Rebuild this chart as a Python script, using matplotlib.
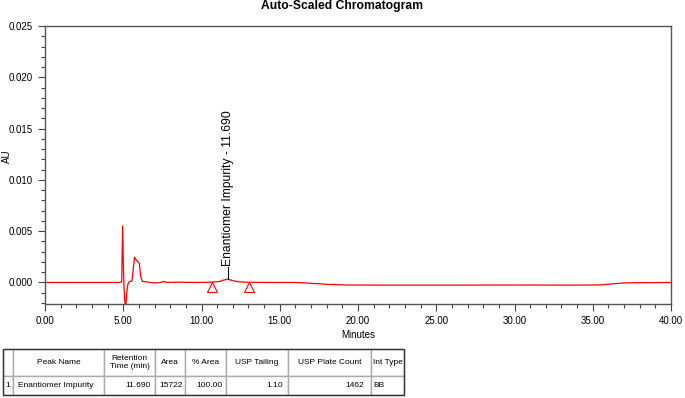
import matplotlib
matplotlib.use("Agg")
import matplotlib.pyplot as plt
from matplotlib.ticker import MultipleLocator, FormatStrFormatter
from matplotlib.table import Table
from matplotlib.patches import Rectangle

plt.rcParams['font.family'] = ['Liberation Sans', 'DejaVu Sans']

# chromatogram trace (minutes, AU)
time_min = [0.00, 4.80, 4.90, 4.96, 5.02, 5.08, 5.15, 5.22, 5.30, 5.40, 5.55, 5.65,
            5.72, 5.78, 5.90, 6.02, 6.12, 6.22, 6.50, 7.00, 7.40, 7.55, 7.80, 8.50,
            9.50, 10.50, 11.10, 11.45, 11.69, 11.95, 12.40, 13.00, 14.00, 16.00,
            17.00, 18.00, 19.30, 22.00, 26.00, 30.00, 34.00, 35.50, 36.50, 37.20, 40.00]
au = [0.00000, 0.00000, 0.00010, 0.00550, 0.00080, -0.00150, -0.00260, -0.00100,
      -0.00015, 0.00010, 0.00012, 0.00150, 0.00245, 0.00230, 0.00205, 0.00190,
      0.00060, 0.00010, 0.00005, -0.00005, 0.00000, 0.00010, 0.00000, 0.00003,
      0.00000, 0.00002, 0.00008, 0.00025, 0.00032, 0.00020, 0.00005, 0.00002,
      0.00000, 0.00000, -0.00008, -0.00018, -0.00025, -0.00026, -0.00026,
      -0.00025, -0.00026, -0.00024, -0.00010, -0.00003, 0.00000]

# integration start/end markers
mark_t = [10.70, 13.05]
mark_au = [-0.00048, -0.00048]

peak_name = "Enantiomer Impurity"
peak_rt = 11.690
peak_top = 0.00032
label_au = 0.00150

# results table
col_labels = ["", "Peak Name", "Retention\nTime (min)", "Area", "% Area",
              "USP Tailing", "USP Plate Count", "Int Type"]
row_values = ["1", peak_name, "11.690", "15722", "100.00", "1.10", "1462", "BB"]
col_width_px = [10, 91, 51, 30, 41, 62, 83, 33]
row_align = ["center", "left", "right", "right", "right", "right", "right", "left"]

fig = plt.figure(figsize=(6.85, 3.98), dpi=100)
ax = fig.add_axes([45 / 685, 1 - 304 / 398, 626 / 685, 278 / 398])

ax.plot(time_min, au, color="#ff0000", lw=0.9)
ax.plot(mark_t, mark_au, ls="none", marker="^", ms=6.5, mfc="none",
        mec="#ff0000", mew=0.8)
ax.plot([peak_rt, peak_rt], [peak_top, label_au], color="black", lw=0.8)
ax.text(peak_rt, label_au + 0.0001, f"{peak_name} - {peak_rt:.3f}",
        rotation=90, ha="center", va="bottom", fontsize=8.7)

ax.set_xlim(0, 40)
ax.set_ylim(-0.0021, 0.025)
ax.xaxis.set_major_locator(MultipleLocator(5))
ax.xaxis.set_minor_locator(MultipleLocator(1))
ax.yaxis.set_major_locator(MultipleLocator(0.005))
ax.yaxis.set_minor_locator(MultipleLocator(0.001))
ax.xaxis.set_major_formatter(FormatStrFormatter("%.2f"))
ax.yaxis.set_major_formatter(FormatStrFormatter("%.3f"))
ax.tick_params(which="both", direction="out", labelsize=7, color="#444444")
ax.tick_params(which="major", length=5, width=0.8)
ax.tick_params(which="minor", length=3, width=0.8)
for s in ax.spines.values():
    s.set_color("#555555")
    s.set_linewidth(1.0)

ax.set_xlabel("Minutes", fontsize=7, labelpad=3)
ax.set_ylabel("AU", fontsize=7)
ax.yaxis.set_label_coords(-0.052, 0.53)
fig.text(342 / 685, 1 - 6 / 398, "Auto-Scaled Chromatogram", ha="center",
         va="center", fontsize=8.7, fontweight="bold")

# table
tax = fig.add_axes([3 / 685, 3 / 398, 401 / 685, 46 / 398])
tax.set_axis_off()
tbl = Table(tax, bbox=[0, 0, 1, 1])
total = sum(col_width_px)
h_head, h_row = 27 / 46, 19 / 46
for j, (lab, w) in enumerate(zip(col_labels, col_width_px)):
    c = tbl.add_cell(0, j, w / total, h_head, text=lab, loc="center",
                     edgecolor="#aaaaaa", facecolor="white")
    c.get_text().set_fontsize(6)
    c.get_text().set_linespacing(1.3)
    c.PAD = 0.08
for j, (val, w, al) in enumerate(zip(row_values, col_width_px, row_align)):
    c = tbl.add_cell(1, j, w / total, h_row, text=val, loc=al,
                     edgecolor="#aaaaaa", facecolor="white")
    c.get_text().set_fontsize(6)
    c.PAD = 0.08 if j != 1 else 0.05
tbl.auto_set_font_size(False)
tax.add_table(tbl)
tax.add_patch(Rectangle((0, 0), 1, 1, transform=tax.transAxes, fill=False,
                        edgecolor="#333333", lw=1.0, zorder=5, clip_on=False))

fig.savefig("out.png", dpi=100)
